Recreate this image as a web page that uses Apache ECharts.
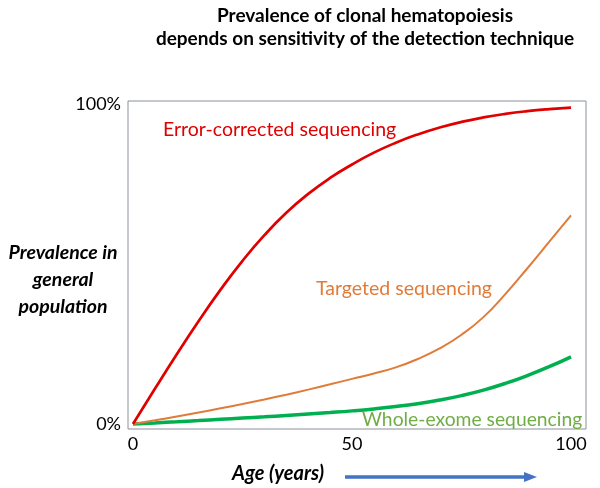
<!DOCTYPE html>
<html>
<head>
<meta charset="utf-8">
<script src="https://cdn.jsdelivr.net/npm/echarts@6/dist/echarts.min.js"></script>
<style>html,body{margin:0;padding:0;background:#fff}#c{width:600px;height:488px}</style>
</head>
<body>
<div id="c"></div>
<script>
const ages = [0, 5, 10, 15, 20, 25, 30, 35, 40, 45, 50, 55, 60, 65, 70, 75, 80, 85, 90, 95, 100];
const errorCorrected = [0, 11, 21.8, 32.2, 42.0, 51.0, 59.0, 66.0, 71.9, 76.9, 81.1, 84.8, 87.9, 90.5, 92.65, 94.4, 95.8, 96.9, 97.75, 98.4, 98.9];
const targeted = [0, 1.15, 2.35, 3.6, 4.9, 6.25, 7.67, 9.17, 10.75, 12.4, 14.1, 15.8, 17.7, 20.3, 23.6, 27.9, 33.4, 40.6, 48.6, 56.9, 65.2];
const wholeExome = [0, 0.35, 0.71, 1.08, 1.46, 1.85, 2.25, 2.67, 3.11, 3.58, 4.1, 4.72, 5.46, 6.36, 7.48, 8.88, 10.6, 12.68, 15.12, 17.9, 21.0];
const xTicks = [0, 50, 100];
const yTicks = [0, 100];
const seriesNames = ['Error-corrected sequencing', 'Targeted sequencing', 'Whole-exome sequencing'];

const pairs = arr => ages.map((a, i) => [a, arr[i]]);
const FONT = 'Lato, "Open Sans", sans-serif';

const chart = echarts.init(document.getElementById('c'), null, {renderer: 'canvas'});
chart.setOption({
  animation: false,
  backgroundColor: '#fff',
  textStyle: {fontFamily: FONT},
  grid: {left: 128, top: 101, width: 458, height: 328, show: true, borderColor: '#8a9099', borderWidth: 1, backgroundColor: 'transparent'},
  xAxis: {
    type: 'value', min: -1.14, max: 103.42,
    axisLine: {show: false}, axisTick: {show: false}, splitLine: {show: false},
    axisLabel: {customValues: xTicks, color: '#000', fontSize: 18, margin: 6, fontFamily: FONT}
  },
  yAxis: {
    type: 'value', min: -1.5625, max: 100.94,
    axisLine: {show: false}, axisTick: {show: false}, splitLine: {show: false},
    axisLabel: {customValues: yTicks, color: '#000', fontSize: 18, margin: 7, fontFamily: FONT, formatter: '{value}%'}
  },
  series: [
    {name: seriesNames[0], type: 'line', smooth: true, symbol: 'none', data: pairs(errorCorrected), lineStyle: {color: '#e00000', width: 2.7}, z: 3},
    {name: seriesNames[1], type: 'line', smooth: true, symbol: 'none', data: pairs(targeted), lineStyle: {color: '#e07b39', width: 2}, z: 2},
    {name: seriesNames[2], type: 'line', smooth: true, symbol: 'none', data: pairs(wholeExome), lineStyle: {color: '#00b050', width: 3.5}, z: 1}
  ],
  graphic: [
    {type: 'text', x: 365, y: 4, style: {text: 'Prevalence of clonal hematopoiesis\ndepends on sensitivity of the detection technique', font: 'bold 19px ' + FONT, fill: '#000', textAlign: 'center', textVerticalAlign: 'top', lineHeight: 23}},
    {type: 'text', x: 163, y: 120, style: {text: seriesNames[0], font: '19.5px ' + FONT, fill: '#e00000', textVerticalAlign: 'top'}},
    {type: 'text', x: 316, y: 279, style: {text: seriesNames[1], font: '19.5px ' + FONT, fill: '#e07b39', textVerticalAlign: 'top'}},
    {type: 'text', x: 362, y: 410, style: {text: seriesNames[2], font: '19.3px ' + FONT, fill: '#70ad47', textVerticalAlign: 'top'}},
    {type: 'text', x: 63, y: 239, style: {text: 'Prevalence in\ngeneral\npopulation', font: 'italic bold 19.5px ' + FONT, fill: '#000', textAlign: 'center', textVerticalAlign: 'top', lineHeight: 27}},
    {type: 'text', x: 278, y: 464, style: {text: 'Age (years)', font: 'italic bold 20px ' + FONT, fill: '#000', textAlign: 'center', textVerticalAlign: 'top'}},
    {type: 'line', shape: {x1: 345, y1: 477, x2: 527, y2: 477}, style: {stroke: '#4472c4', lineWidth: 3.5}},
    {type: 'polygon', shape: {points: [[524, 472], [537, 477], [524, 482]]}, style: {fill: '#4472c4'}}
  ]
});
</script>
</body>
</html>
